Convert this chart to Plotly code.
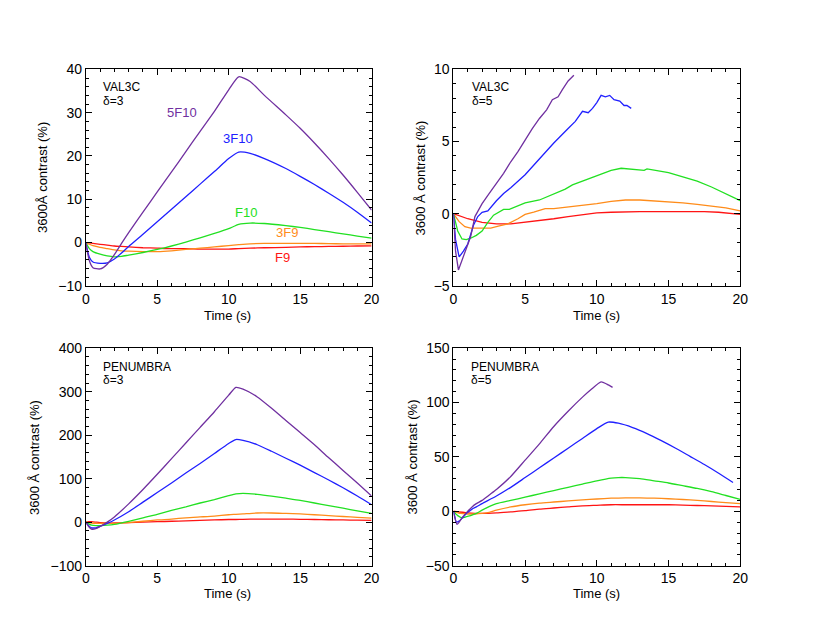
import plotly.graph_objects as go

W, H = 830, 636

# --- VAL3C, delta=3 (top left) ---
a_t = [0, 0.25, 0.5, 1, 1.5, 2, 2.5, 3, 4, 5, 6, 7, 8, 9, 10, 10.7, 11.5, 12.5, 14, 15, 16, 17, 18, 19, 20]
a_5f10 = [0, -4.2, -5.8, -6.1, -5.0, -2.8, -0.2, 2.3, 7.0, 11.7, 16.3, 21.0, 25.7, 30.3, 35.3, 38.3, 37.2, 34.0, 29.5, 26.4, 23.0, 19.4, 15.6, 11.6, 7.5]
a_3f10 = [0, -3.4, -4.5, -4.8, -4.7, -3.8, -2.4, -0.9, 1.9, 4.8, 7.7, 10.6, 13.5, 16.4, 19.4, 20.9, 20.6, 19.4, 17.1, 15.3, 13.4, 11.4, 9.3, 7.0, 4.5]
a_f10 = [0, -1.4, -2.1, -2.7, -3.1, -3.3, -3.2, -2.9, -2.3, -1.6, -0.8, 0.1, 1.1, 2.1, 3.2, 4.2, 4.5, 4.4, 3.9, 3.5, 3.0, 2.5, 2.0, 1.5, 1.0]
a_3f9 = [0, -0.4, -0.7, -1.1, -1.4, -1.7, -1.9, -2.0, -2.1, -2.1, -1.9, -1.6, -1.3, -1.0, -0.7, -0.5, -0.3, -0.2, -0.2, -0.2, -0.2, -0.25, -0.3, -0.3, -0.3]
a_f9 = [0, -0.1, -0.2, -0.4, -0.6, -0.8, -0.9, -1.0, -1.2, -1.3, -1.4, -1.4, -1.5, -1.5, -1.5, -1.4, -1.3, -1.2, -1.1, -1.0, -0.95, -0.9, -0.85, -0.8, -0.75]

# --- VAL3C, delta=5 (top right) ---
b_5f10_t = [0, 0.15, 0.35, 0.6, 0.9, 1.2, 1.5, 1.7, 2.0, 2.5, 3.0, 3.5, 4.0, 4.5, 5.0, 5.5, 6.0, 6.5, 6.9, 7.3, 7.6, 8.0, 8.4]
b_5f10 = [0, -2.6, -3.9, -3.2, -2.5, -1.6, -0.2, 0.2, 0.7, 1.4, 2.1, 2.8, 3.6, 4.3, 5.1, 5.9, 6.6, 7.2, 7.9, 8.1, 8.6, 9.2, 9.6]
b_3f10_t = [0, 0.15, 0.4, 0.7, 1.0, 1.4, 1.7, 2.0, 2.4, 3.0, 3.5, 4.0, 5.0, 6.0, 7.0, 8.0, 8.5, 9.0, 9.4, 9.7, 10.0, 10.3, 10.6, 10.9, 11.2, 11.6, 11.9, 12.1, 12.4]
b_3f10 = [0, -1.8, -3.0, -2.6, -2.1, -0.8, -0.2, 0.1, 0.2, 0.9, 1.4, 1.8, 2.7, 3.8, 4.9, 5.9, 6.4, 7.1, 7.0, 7.3, 7.7, 8.2, 8.1, 8.2, 7.9, 7.8, 7.5, 7.5, 7.3]
b_f10_t = [0, 0.3, 0.6, 0.9, 1.2, 1.6, 2.0, 2.4, 2.8, 3.2, 3.5, 3.9, 4.5, 5.0, 6.0, 7.0, 7.8, 8.3, 9.0, 10.0, 11.0, 11.7, 12.5, 13.3, 13.5, 13.8, 15.0, 16.0, 17.0, 18.0, 19.0, 20.0]
b_f10 = [0, -1.2, -1.75, -1.8, -1.7, -1.5, -1.2, -0.6, -0.1, 0.15, 0.3, 0.3, 0.55, 0.75, 0.95, 1.35, 1.7, 2.0, 2.25, 2.65, 3.0, 3.15, 3.1, 3.0, 3.1, 3.05, 2.85, 2.55, 2.25, 1.85, 1.4, 0.9]
b_3f9_t = [0, 0.4, 0.8, 1.2, 2.0, 2.6, 3.2, 3.8, 4.5, 5.0, 5.6, 6.0, 6.4, 7.0, 8.0, 9.0, 10.0, 11.0, 12.0, 13.0, 14.0, 15.0, 16.0, 17.0, 18.0, 19.0, 20.0]
b_3f9 = [0, -0.55, -0.9, -1.0, -1.0, -1.0, -0.85, -0.7, -0.35, -0.05, 0.1, 0.2, 0.35, 0.35, 0.45, 0.6, 0.7, 0.85, 0.95, 0.95, 0.9, 0.85, 0.75, 0.65, 0.55, 0.4, 0.2]
b_f9_t = [0, 1, 2, 3, 4, 5, 6, 7, 8, 9, 10, 11, 12, 13, 14, 15, 16, 16.8, 17.5, 18.5, 19.3, 20]
b_f9 = [0, -0.35, -0.6, -0.7, -0.7, -0.6, -0.5, -0.35, -0.2, -0.05, 0.05, 0.1, 0.15, 0.15, 0.15, 0.15, 0.15, 0.2, 0.15, 0.1, 0.0, -0.05]

# --- PENUMBRA, delta=3 (bottom left) ---
c_t = [0, 0.2, 0.4, 0.7, 1.0, 1.5, 2.0, 3.0, 4.0, 5.0, 6.0, 7.0, 8.0, 9.0, 10.0, 10.5, 11.0, 12.0, 13.0, 14.0, 15.0, 16.0, 17.0, 18.0, 19.0, 20.0]
c_5f10 = [0, -10, -16, -15, -10, 0, 12, 42, 75, 110, 146, 182, 218, 254, 292, 310, 306, 288, 262, 234, 206, 178, 148, 119, 90, 60]
c_3f10 = [0, -8, -13, -13, -10, -3, 5, 24, 46, 68, 90, 113, 135, 158, 181, 190, 188, 178, 163, 147, 131, 114, 97, 79, 60, 40]
c_f10 = [0, -4, -7, -8, -8, -7, -5, 2, 10, 18, 27, 35, 44, 52, 61, 65, 66, 64, 60, 55, 50, 44, 38, 32, 26, 20]
c_3f9 = [0, -1, -2, -3, -3, -3, -3, -1, 2, 5, 7, 10, 12, 14, 17, 18, 19, 21, 21, 20, 19, 17, 15, 13, 11, 9]
c_f9 = [0, 1, 1, 0, -1, -2, -2, -1, 0, 1, 2, 3, 4, 5, 6, 6, 6.5, 7, 7, 7, 6.5, 6, 5.5, 5, 4.5, 4]

# --- PENUMBRA, delta=5 (bottom right) ---
d_5f10_t = [0, 0.1, 0.25, 0.4, 0.6, 0.8, 1.0, 1.3, 1.6, 2.0, 2.5, 3.0, 4.0, 5.0, 6.0, 7.0, 8.0, 9.0, 9.6, 10.3, 10.7, 11.1]
d_5f10 = [0, -6, -12, -10, -6, -3, 0, 4, 7, 10, 15, 20, 32, 47, 62, 78, 92, 105, 112, 119, 117, 114]
d_3f10_t = [0, 0.1, 0.2, 0.4, 0.7, 1.0, 1.3, 1.6, 2.0, 3.0, 4.0, 5.0, 6.0, 7.0, 8.0, 9.0, 10.0, 10.8, 11.5, 12.5, 13.5, 14.5, 15.5, 16.5, 17.5, 18.5, 19.5]
d_3f10 = [0, -5, -10, -9, -5, -1, 2, 4, 7, 14, 22, 31, 40, 49, 58, 67, 76, 82, 81, 77, 71.5, 65, 58, 50.5, 43, 35, 26.5]
d_f10_t = [0, 0.3, 0.6, 0.9, 1.2, 1.6, 2.0, 2.6, 3.0, 4.0, 5.0, 6.0, 7.0, 8.0, 9.0, 10.0, 11.0, 11.5, 12.0, 13.0, 14.0, 15.0, 16.0, 17.0, 18.0, 19.0, 20.0]
d_f10 = [0, -4, -6, -5, -4, -2, 1, 5, 7, 10, 13, 16, 19, 22, 25, 28, 30.5, 31, 31, 30, 28, 26, 23.5, 21, 18, 14.5, 11]
d_3f9_t = [0, 0.5, 1, 1.5, 2, 2.5, 3, 4, 5, 6, 7, 8, 9, 10, 11, 12, 13, 14, 15, 16, 17, 18, 19, 20]
d_3f9 = [0, -2, -2.5, -2.5, -2, -1, 1, 4, 6, 7.5, 8.5, 9.5, 10.5, 11.3, 12, 12.3, 12.3, 12, 11.5, 10.8, 10, 9, 8, 7]
d_f9_t = [0, 1, 2, 3, 4, 5, 6, 7, 8, 9, 10, 11, 12, 13, 14, 15, 16, 17, 18, 19, 20]
d_f9 = [0, -1.5, -2, -1.5, -0.5, 0.5, 2, 3, 4, 5, 5.5, 6, 6, 6, 6, 6, 5.7, 5.3, 5, 4.5, 4]

colors = {'5F10': '#7030a0', '3F10': '#2020ff', 'F10': '#22e022', '3F9': '#ff8c1a', 'F9': '#ff1414'}
FONT = 'Liberation Sans'


def px_x(px):
    return px / W


def px_y(py):
    return 1 - py / H


fig = go.Figure()


def add(x, y, name, ax, smooth):
    fig.add_trace(go.Scatter(
        x=x, y=y, mode='lines', name=name, showlegend=False,
        line=dict(color=colors[name], width=1.3, shape='spline' if smooth else 'linear', smoothing=0.6),
        xaxis='x' + ax, yaxis='y' + ax))


for name, ys in [('F9', a_f9), ('3F9', a_3f9), ('F10', a_f10), ('3F10', a_3f10), ('5F10', a_5f10)]:
    add(a_t, ys, name, '', True)
for name, xs, ys in [('F9', b_f9_t, b_f9), ('3F9', b_3f9_t, b_3f9), ('F10', b_f10_t, b_f10),
                     ('3F10', b_3f10_t, b_3f10), ('5F10', b_5f10_t, b_5f10)]:
    add(xs, ys, name, '2', False)
for name, ys in [('F9', c_f9), ('3F9', c_3f9), ('F10', c_f10), ('3F10', c_3f10), ('5F10', c_5f10)]:
    add(c_t, ys, name, '3', True)
for name, xs, ys in [('F9', d_f9_t, d_f9), ('3F9', d_3f9_t, d_3f9), ('F10', d_f10_t, d_f10),
                     ('3F10', d_3f10_t, d_3f10), ('5F10', d_5f10_t, d_5f10)]:
    add(xs, ys, name, '4', True)

common = dict(ticks='inside', ticklen=6, tickwidth=1, tickcolor='black',
              showline=True, linecolor='black', linewidth=1, mirror='ticks',
              showgrid=False, zeroline=False,
              tickfont=dict(family=FONT, size=14, color='black'))


def xax(left, right, anchor):
    return dict(domain=[px_x(left), px_x(right)], anchor=anchor, range=[0, 20], dtick=5,
                minor=dict(ticks='inside', ticklen=3, tickwidth=1, dtick=1, tickcolor='black', showgrid=False),
                **common)


def yax(top, bottom, anchor, rng, dt, mdt):
    return dict(domain=[px_y(bottom), px_y(top)], anchor=anchor, range=rng, dtick=dt,
                minor=dict(ticks='inside', ticklen=3, tickwidth=1, dtick=mdt, tickcolor='black', showgrid=False),
                **common)


fig.update_layout(
    width=W, height=H, margin=dict(l=0, r=0, t=0, b=0),
    paper_bgcolor='white', plot_bgcolor='white',
    xaxis=xax(83, 373, 'y'), yaxis=yax(63, 285, 'x', [-10, 40], 10, 2),
    xaxis2=xax(456, 747, 'y2'), yaxis2=yax(63, 285, 'x2', [-5, 10], 5, 1),
    xaxis3=xax(83, 373, 'y3'), yaxis3=yax(349, 572, 'x3', [-100, 400], 100, 20),
    xaxis4=xax(456, 747, 'y4'), yaxis4=yax(349, 572, 'x4', [-50, 150], 50, 10),
)


def note(px, py, text, color='black', anchor='center', angle=0, size=13):
    fig.add_annotation(x=px_x(px), y=px_y(py), xref='paper', yref='paper', text=text,
                       showarrow=False, xanchor=anchor, yanchor='middle', textangle=angle,
                       font=dict(family=FONT, size=size, color=color))


# axis titles
for cx in [227, 601]:
    note(cx, 315, 'Time (s)')
    note(cx, 601, 'Time (s)')
note(39, 174, '3600Å contrast (%)', angle=-90)
note(423, 174, '3600 Å contrast (%)', angle=-90)
note(31, 461, '3600 Å contrast (%)', angle=-90)
note(414, 461, '3600 Å contrast (%)', angle=-90)

# panel labels
note(98, 81, 'VAL3C', anchor='left', size=12)
note(98, 95, 'δ=3', anchor='left', size=12)
note(473, 81, 'VAL3C', anchor='left', size=12)
note(473, 95, 'δ=5', anchor='left', size=12)
note(98, 368, 'PENUMBRA', anchor='left', size=12)
note(98, 382, 'δ=3', anchor='left', size=12)
note(472, 368, 'PENUMBRA', anchor='left', size=12)
note(472, 382, 'δ=5', anchor='left', size=12)

# curve labels
note(181, 107, '5F10', colors['5F10'])
note(237, 134, '3F10', colors['3F10'])
note(246, 210, 'F10', colors['F10'])
note(287, 230, '3F9', colors['3F9'])
note(283, 256, 'F9', colors['F9'])

# drop the default body margin so the figure sits at the page origin
fig.write_html('out.html', config={'displayModeBar': False},
               post_script="document.body.style.margin='0';")
